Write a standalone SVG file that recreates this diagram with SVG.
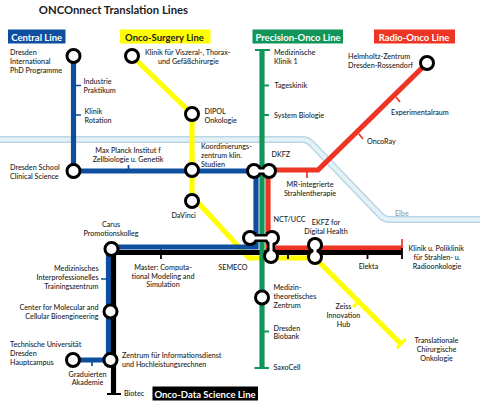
<svg xmlns="http://www.w3.org/2000/svg" width="480" height="407" viewBox="0 0 480 407">
<style>
text{font-family:"Lato","Noto Sans",sans-serif;font-size:7.2px;font-weight:500;fill:#222}
.m{text-anchor:middle}.e{text-anchor:end}
.t{font-size:9.5px;font-weight:700}
.w{fill:#fff}
.l{fill:none;stroke-width:5.2;stroke-linejoin:miter}
.k{fill:none;stroke-width:1.7}
.s{fill:#fff;stroke:#000;stroke-width:3}
.bg{fill:none;stroke:#000;stroke-width:8}
.fg{fill:none;stroke:#fff;stroke-width:3}
.o{fill:#000}.i{fill:#fff}
.blue{stroke:#0d4f9e}.yel{stroke:#ffff00}.grn{stroke:#11965a}.red{stroke:#ee3424}.blk{stroke:#000}
</style>
<path d="M0 139.500H303Q307 139.500 311 143L381 216Q385 219.500 389 219.500H480" fill="none" stroke="#b8d6e6" stroke-width="7"/>
<path d="M0 139.500H303Q307 139.500 311 143L381 216Q385 219.500 389 219.500H480" fill="none" stroke="#e6f1f7" stroke-width="4"/>
<g id="connectors">
<path class="l yel" d="M132 56L192 114V196L249 258H315L401 344"/>
<path class="k yel" style="stroke-width:3" d="M405.700 339L397 348M358 302L353 307"/>
<path class="l blue" d="M73.500 56V171H256V247H112"/>
<path class="l blue" d="M108.500 247V360H73"/>
<path class="k blue" d="M73 85.500H81M73 115H81M128.500 171V165M101 279H109M92 360V366M161 247V252"/>
<path class="l red" d="M268 171V248H402M268 170H318L427 63"/>
<path class="k red" d="M307 170V178M396 97L400 102M359 134L363 139M367.500 248V253M402 239V248"/>
<path class="l blk" d="M402 252.500H113.500V394"/>
<path class="k blk" d="M161 252V259M288 252V259M367.500 252V259M402 248V259M107 394H121" style="stroke-width:1.800"/>
<path class="l grn" d="M262 50V368"/>
<path class="k grn" d="M255 50H270M262 85.500H269M262 115H269M262 331.500H269" style="stroke-width:1.800"/>
<path class="k grn" d="M254.500 368H269" style="stroke-width:2"/>
</g>
<g id="st-dresden-phd"><circle class="s" cx="73.500" cy="56" r="6.500"/></g>
<g id="st-klinik-viszeral"><circle class="s" cx="132" cy="56" r="6.500"/></g>
<g id="st-dipol"><circle class="s" cx="192" cy="114" r="6.500"/></g>
<g id="st-dresden-school"><circle class="s" cx="73.500" cy="171" r="6.500"/></g>
<g id="st-koord"><circle class="s" cx="192" cy="170" r="6.500"/></g>
<g id="st-davinci"><circle class="s" cx="192" cy="201" r="6.500"/></g>
<g id="st-helmholtz"><circle class="s" cx="427" cy="63" r="6.500"/></g>
<g id="st-carus"><circle class="s" cx="111.500" cy="249" r="6.500"/></g>
<g id="st-cmcb"><circle class="s" cx="110.500" cy="311.500" r="6.500"/></g>
<g id="st-zih"><circle class="s" cx="110.500" cy="360" r="6.500"/></g>
<g id="st-tud"><circle class="s" cx="73" cy="360" r="6.500"/></g>
<g id="st-medizin"><circle class="s" cx="262" cy="297.500" r="6.500"/></g>
<g id="st-dkfz"><path class="bg" d="M254 171H269"/><circle class="o" cx="254" cy="171" r="8"/><circle class="o" cx="269" cy="171" r="8"/><circle class="i" cx="254" cy="171" r="5"/><circle class="i" cx="269" cy="171" r="5"/><path class="fg" d="M254 171H269"/></g>
<g id="st-nct"><path class="bg" d="M250 238H271V256"/><circle class="o" cx="250" cy="238" r="8"/><circle class="o" cx="272" cy="238" r="8"/><circle class="o" cx="271" cy="256" r="8"/><circle class="i" cx="250" cy="238" r="5"/><circle class="i" cx="272" cy="238" r="5"/><circle class="i" cx="271" cy="256" r="5"/><path class="fg" d="M250 238H271V256"/></g>
<g id="st-ekfz"><path class="bg" d="M315 245V257"/><circle class="o" cx="315" cy="245" r="8"/><circle class="o" cx="315" cy="257" r="8"/><circle class="i" cx="315" cy="245" r="5"/><circle class="i" cx="315" cy="257" r="5"/><path class="fg" d="M315 245V257"/></g>
<g id="legend-central"><rect x="8" y="29.500" width="57.500" height="14" fill="#0d4f9e"/><text class="t w m" x="36.700" y="40.500">Central Line</text></g>
<g id="legend-surgery"><rect x="120" y="29.500" width="90.500" height="14" fill="#ffff00"/><text class="t m" x="164.500" y="40.500">Onco-Surgery Line</text></g>
<g id="legend-precision"><rect x="252.500" y="29.500" width="90.500" height="14" fill="#11965a"/><text class="t w m" x="298" y="40.500">Precision-Onco Line</text></g>
<g id="legend-radio"><rect x="374" y="29.500" width="81" height="14" fill="#ee3424"/><text class="t w m" x="414" y="40.500">Radio-Onco Line</text></g>
<g id="legend-data"><rect x="152.500" y="386.500" width="105.500" height="14" fill="#000"/><text class="t w m" x="205" y="397.500">Onco-Data Science Line</text></g>
<g id="labels">
<text x="38.800" y="14" style="font-size:11.300px;font-weight:700">ONCOnnect Translation Lines</text>
<text x="10" y="54.500">Dresden</text><text x="10" y="63.500">International</text><text x="10" y="72.500">PhD Programme</text>
<text x="83.500" y="84">Industrie</text><text x="83.500" y="92.500">Praktikum</text>
<text x="84.500" y="114">Klinik</text><text x="84.500" y="123">Rotation</text>
<text x="10" y="170">Dresden School</text><text x="10" y="179">Clinical Science</text>
<text class="m" x="128" y="153">Max Planck Institut f</text><text class="m" x="128" y="162">Zellbiologie u. Genetik</text>
<text x="145" y="55">Klinik für Viszeral-, Thorax-</text><text x="158" y="64">und Gefäßchirurgie</text>
<text x="204.500" y="114">DIPOL</text><text x="204.500" y="123">Onkologie</text>
<text x="201" y="149">Koordinierungs-</text><text x="201" y="158">zentrum klin.</text><text x="201" y="167">Studien</text>
<text x="171.500" y="218">DaVinci</text>
<text x="274" y="55">Medizinische</text><text x="274" y="64">Klinik 1</text>
<text x="274.500" y="88">Tageskinik</text><text x="274" y="118">System Biologie</text>
<text x="271.500" y="157">DKFZ</text>
<text x="348" y="59">Helmholtz-Zentrum</text><text x="348" y="68">Dresden-Rossendorf</text>
<text x="391" y="115">Experimentalraum</text><text x="367" y="143.500">OncoRay</text>
<text class="m" x="310" y="187">MR-integrierte</text><text class="m" x="310" y="196">Strahlentherapie</text>
<text x="273.500" y="222">NCT/UCC</text>
<text class="m" x="326" y="225">EKFZ for</text><text class="m" x="326" y="234">Digital Health</text>
<text x="408.500" y="251">Klinik u. Poliklinik</text><text class="m" x="437" y="260">für Strahlen- u.</text><text class="m" x="437" y="268.500">Radioonkologie</text>
<text class="m" x="368.500" y="269">Elekta</text>
<text x="395" y="216" style="fill:#999">Elbe</text>
<text x="273.500" y="290">Medizin-</text><text x="273.500" y="299">theoretisches</text><text x="273.500" y="308">Zentrum</text>
<text x="273.500" y="330.500">Dresden</text><text x="273.500" y="339">Biobank</text>
<text x="273.500" y="369.500">SaxoCell</text>
<text class="m" x="343.500" y="309">Zeiss</text><text class="m" x="343.500" y="318">Innovation</text><text class="m" x="343.500" y="327">Hub</text>
<text class="m" x="436.500" y="343">Translationale</text><text class="m" x="436.500" y="352">Chirurgische</text><text class="m" x="436.500" y="361">Onkologie</text>
<text class="m" x="111" y="227">Carus</text><text class="m" x="111" y="236">Promotionskolleg</text>
<text class="m" x="163" y="269.500">Master: Computa-</text><text class="m" x="163" y="278.500">tional Modeling and</text><text class="m" x="163" y="287">Simulation</text>
<text class="m" x="233" y="269.500">SEMECO</text>
<text class="e" x="98.500" y="271">Medizinisches</text><text class="e" x="98.500" y="280">Interprofessionelles</text><text class="e" x="98.500" y="288.500">Trainingszentrum</text>
<text class="e" x="98.500" y="309.500">Center for Molecular and</text><text class="e" x="98.500" y="318.500">Cellular Bioengineering</text>
<text x="10" y="347">Technische Universität</text><text x="10" y="356">Dresden</text><text x="10" y="365">Hauptcampus</text>
<text x="122" y="358">Zentrum für Informationsdienst</text><text x="122" y="367">und Hochleistungsrechnen</text>
<text class="m" x="87.500" y="376.500">Graduierten</text><text class="m" x="87.500" y="385">Akademie</text>
<text x="124" y="396">Biotec</text>
</g>
</svg>
